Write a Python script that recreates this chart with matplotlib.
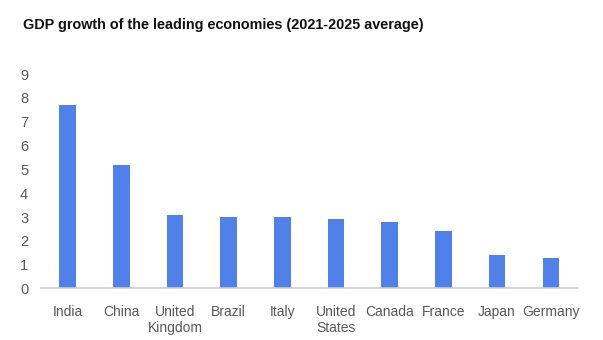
import matplotlib
matplotlib.use("Agg")
import matplotlib.pyplot as plt

# data
countries = ["India", "China", "United\nKingdom", "Brazil", "Italy",
             "United\nStates", "Canada", "France", "Japan", "Germany"]
growth = [7.7, 5.2, 3.1, 3.0, 3.0, 2.9, 2.8, 2.4, 1.4, 1.3]
y_ticks = [0, 1, 2, 3, 4, 5, 6, 7, 8, 9]

plt.rcParams["font.family"] = ["Liberation Sans", "DejaVu Sans"]

fig = plt.figure(figsize=(6.03, 3.4), dpi=100)
ax = fig.add_axes([0.0675, 0.1515, 0.8905, 0.6305])

x = list(range(len(countries)))
ax.bar(x, growth, width=0.31, color="#5081e8", zorder=2)

ax.set_xlim(-0.5, len(countries) - 0.5)
ax.set_ylim(0, 9)
ax.set_yticks(y_ticks)
ax.set_xticks(x)
ax.set_xticklabels(countries, fontsize=10, color="#595959", linespacing=1.15)
ax.tick_params(axis="y", labelsize=10.5, labelcolor="#595959", length=0, pad=9)
ax.tick_params(axis="x", length=0, pad=12)

for side in ["top", "right", "left"]:
    ax.spines[side].set_visible(False)
ax.spines["bottom"].set_color("#cccccc")
ax.spines["bottom"].set_linewidth(1.2)

fig.text(0.038, 0.926, "GDP growth of the leading economies (2021-2025 average)",
         fontsize=10.4, fontweight="bold", color="#111111", va="center", ha="left")

fig.savefig("out.png", dpi=100, facecolor="white")
